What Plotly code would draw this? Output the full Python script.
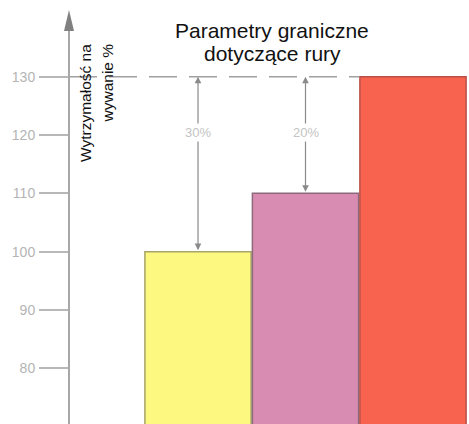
import plotly.graph_objects as go

# Data
categories = ["A", "B", "C"]
values = [100, 110, 130]
bar_colors = ["#fdf980", "#d98cb1", "#f8634f"]
edge_colors = ["#a8a46a", "#8c6a7c", "#b85048"]
limit = 130
gap_labels = ["30%", "20%"]
tick_vals = [70, 80, 90, 100, 110, 120, 130]
title_lines = ["Parametry graniczne", "dotyczące rury"]
ytitle_lines = ["Wytrzymałość na", "wywanie %"]

W, H = 469, 424
x_range = [-1.842, 2.521]
y_range = [70.46, 138.0]
y_dom_top = 1 - 30 / H
axis_px = 69
axis_paper = axis_px / W
axis_x_data = x_range[0] + axis_paper * (x_range[1] - x_range[0])

font_family = "Arial, Liberation Sans, Helvetica, sans-serif"

fig = go.Figure()
fig.add_trace(go.Bar(
    x=categories,
    y=values,
    marker=dict(color=bar_colors, line=dict(color=edge_colors, width=1.5)),
    hoverinfo="skip",
))

# Dashed limit line from the axis to the tallest bar
fig.add_shape(type="line", xref="x", yref="y",
              x0=axis_x_data, x1=len(categories) - 1.5, y0=limit, y1=limit,
              line=dict(color="#a0a0a0", width=1.5, dash="28px,12px"))

# Double-headed gap arrows with percentage labels
for i, lab in enumerate(gap_labels):
    fig.add_annotation(x=categories[i], y=limit, ax=categories[i], ay=values[i],
                       xref="x", yref="y", axref="x", ayref="y",
                       text="", showarrow=True, arrowside="end+start",
                       arrowhead=2, arrowsize=1.1, arrowwidth=1.2,
                       arrowcolor="#8a8a8a", standoff=0, startstandoff=0)
    fig.add_annotation(x=categories[i], y=120.5, xref="x", yref="y",
                       text=lab, showarrow=False, bgcolor="white",
                       font=dict(family=font_family, size=13, color="#c4c4c4"),
                       borderpad=1)

# Axis arrowhead
fig.add_shape(type="path", xref="paper", yref="paper",
              path=f"M {axis_paper} {1 - 10 / H} L {(axis_px - 5) / W} {1 - 31 / H} "
                   f"L {(axis_px + 5) / W} {1 - 31 / H} Z",
              fillcolor="#808080", line=dict(width=0))

# Title, one annotation per line for tight spacing
for k, line in enumerate(title_lines):
    fig.add_annotation(x=272 / W, y=1 - (30 + 23 * k) / H, xref="paper", yref="paper",
                       text=line, showarrow=False,
                       font=dict(family=font_family, size=21, color="#111111"),
                       xanchor="center", yanchor="middle")

# Axis title, rotated, both lines ending at the same height
for k, line in enumerate(ytitle_lines):
    fig.add_annotation(x=(85 + 22 * k) / W, y=1 - 42 / H, xref="paper", yref="paper",
                       text=line, showarrow=False, textangle=-90,
                       font=dict(family=font_family, size=15.5, color="#111111"),
                       xanchor="center", yanchor="top")

fig.update_layout(
    width=W, height=H,
    margin=dict(l=0, r=0, t=0, b=0),
    paper_bgcolor="white", plot_bgcolor="rgba(0,0,0,0)",
    showlegend=False, bargap=0.012,
    xaxis=dict(range=x_range, visible=False, domain=[0, 1]),
    yaxis=dict(range=y_range, domain=[0, y_dom_top], anchor="free",
               position=axis_paper, showgrid=False, zeroline=False,
               showline=True, linecolor="#a8a8a8", linewidth=2,
               ticks="outside", ticklen=29, tickwidth=2, tickcolor="#b8b8b8",
               tickvals=tick_vals, ticklabelstandoff=1,
               tickfont=dict(family=font_family, size=14, color="#b4b4b4")),
)

fig.write_html("out.html")
